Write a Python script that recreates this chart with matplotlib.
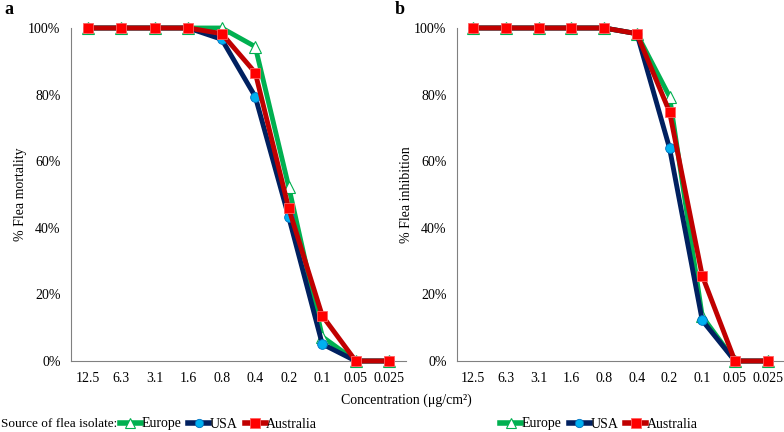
import matplotlib
matplotlib.use("Agg")
import matplotlib.pyplot as plt
from matplotlib.ticker import PercentFormatter
from matplotlib.lines import Line2D

plt.rcParams['font.family'] = ['Liberation Serif', 'DejaVu Serif']

concentrations = ["12.5", "6.3", "3.1", "1.6", "0.8", "0.4", "0.2", "0.1", "0.05", "0.025"]

mort_europe = [100, 100, 100, 100, 100, 94.4, 52.3, 7.3, 0, 0]
mort_usa = [100, 100, 100, 100, 96.6, 79.4, 43.2, 5.1, 0, 0]
mort_australia = [100, 100, 100, 100, 98.3, 86.6, 45.8, 13.6, 0, 0]

inh_europe = [100, 100, 100, 100, 100, 98.3, 79.4, 13.4, 0, 0]
inh_usa = [100, 100, 100, 100, 100, 98.3, 63.9, 12.2, 0, 0]
inh_australia = [100, 100, 100, 100, 100, 98.3, 74.8, 25.6, 0, 0]

series_names = ["Europe", "USA", "Australia"]

styles = {
    "Europe": dict(color="#00B050", marker="^", mfc="white", mec="#00B050", ms=8, mew=0.8),
    "USA": dict(color="#002060", marker="o", mfc="#00B0F0", mec="#0070C0", ms=7, mew=0.6),
    "Australia": dict(color="#C00000", marker="s", mfc="#FF0000", mec="#FF6060", ms=7.5, mew=0.6),
}

fig = plt.figure(figsize=(7.84, 4.32), dpi=100)
ax_a = fig.add_axes([71/784, 1-361/432, 335/784, 333/432])
ax_b = fig.add_axes([457/784, 1-361/432, 327/784, 333/432])

x = list(range(len(concentrations)))

def draw(ax, data, ylabel):
    for name, vals in zip(series_names, data):
        st = styles[name]
        ax.plot(x, vals, color=st["color"], lw=3.5, marker=st["marker"],
                markerfacecolor=st["mfc"], markeredgecolor=st["mec"],
                markersize=st["ms"], markeredgewidth=st["mew"], clip_on=False,
                solid_joinstyle="miter", zorder=3)
    ax.set_xlim(-0.5, len(concentrations) - 0.5)
    ax.set_ylim(0, 100)
    ax.set_yticks([0, 20, 40, 60, 80, 100])
    ax.yaxis.set_major_formatter(PercentFormatter(100, decimals=0))
    ax.set_xticks(x)
    ax.set_xticklabels(concentrations)
    ax.tick_params(axis='both', length=0, labelsize=10)
    ax.tick_params(axis='x', pad=8)
    ax.tick_params(axis='y', pad=7.5)
    for s in ["top", "right"]:
        ax.spines[s].set_visible(False)
    for s in ["left", "bottom"]:
        ax.spines[s].set_color("#808080")
        ax.spines[s].set_linewidth(0.8)
    ax.set_ylabel(ylabel, fontsize=10, labelpad=1)

draw(ax_a, [mort_europe, mort_usa, mort_australia], "% Flea mortality")
draw(ax_b, [inh_europe, inh_usa, inh_australia], "% Flea inhibition")

fig.text(4/784, 1-9/432, "a", fontsize=13, fontweight="bold", va="center", ha="left")
fig.text(395/784, 1-9/432, "b", fontsize=13, fontweight="bold", va="center", ha="left")

fig.text(406/784, 1-400/432, "Concentration (μg/cm²)", fontsize=10, ha="center", va="center")

handles = []
for name in series_names:
    st = styles[name]
    handles.append(Line2D([], [], color=st["color"], lw=4, marker=st["marker"],
                          markerfacecolor=st["mfc"], markeredgecolor=st["mec"],
                          markersize=st["ms"] - 1, markeredgewidth=st["mew"]))

fig.text(1/784, 1-424/432, "Source of flea isolate:", fontsize=9.5, ha="left", va="center")
leg_kw = dict(ncol=3, frameon=False, fontsize=10, handlelength=1.5, handletextpad=0.05,
              columnspacing=0.5, borderaxespad=0, borderpad=0)
fig.legend(handles, series_names, loc="center left", bbox_to_anchor=(120/784, 1-424/432), **leg_kw)
fig.legend(handles, series_names, loc="center", bbox_to_anchor=(599/784, 1-424/432), **leg_kw)

fig.savefig("out.png", dpi=100)
